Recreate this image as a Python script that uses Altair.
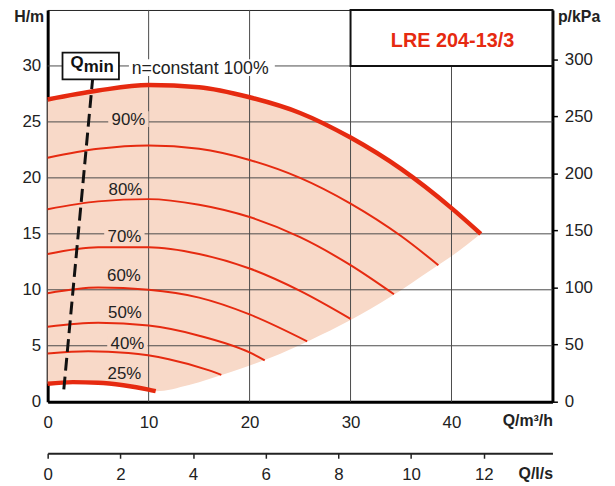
import altair as alt
import pandas as pd

# ---------------- data ----------------
Q_MAX = 50.0          # m3/h
H_MAX = 35.0          # m
KPA_PER_M = 9.81
M3H_PER_LS = 3.6

# pump curves: flow Q (m3/h) and head H (m)
q_100 = [0, 5, 10, 15, 20, 25, 30, 35, 40, 42.9]
h_100 = [27.0, 27.8, 28.3, 28.1, 27.2, 25.8, 23.6, 20.8, 17.3, 15.0]
q_90 = [0, 5, 10, 15, 20, 25, 30, 35, 38.7]
h_90 = [21.8, 22.6, 22.9, 22.6, 21.6, 20.0, 17.7, 14.8, 12.2]
q_80 = [0, 5, 10, 15, 20, 25, 30, 34.3]
h_80 = [17.2, 17.9, 18.1, 17.6, 16.5, 14.7, 12.2, 9.6]
q_70 = [0, 5, 10, 15, 20, 25, 30]
h_70 = [13.2, 13.8, 13.8, 13.2, 11.9, 9.9, 7.4]
q_60 = [0, 5, 10, 15, 20, 25.7]
h_60 = [9.7, 10.2, 10.0, 9.3, 7.8, 5.4]
q_50 = [0, 5, 10, 15, 20, 21.5]
h_50 = [6.7, 7.05, 6.8, 5.9, 4.4, 3.7]
q_40 = [0, 4, 8, 12, 16, 17.2]
h_40 = [4.3, 4.5, 4.35, 3.8, 2.8, 2.4]
q_25 = [0, 2.5, 5, 7.5, 10, 10.7]
h_25 = [1.6, 1.75, 1.7, 1.47, 1.08, 0.94]

# shaded operating range
area_q = [0, 2.5, 5, 7.5, 10, 10.7, 14, 18, 22, 26, 30, 34, 38, 40, 42.9]
area_top = [27.0, 27.45, 27.8, 28.1, 28.3, 28.3, 28.2, 27.6, 26.7, 25.4, 23.6, 21.4, 18.8, 17.3, 15.0]
area_bottom = [1.6, 1.75, 1.7, 1.47, 1.08, 0.94, 1.5, 2.6, 3.9, 5.5, 7.3, 9.4, 11.8, 13.0, 15.0]

# Qmin line
qmin_q = [1.6, 4.45]
qmin_h = [1.1, 28.8]

# axis ticks
h_ticks = [0, 5, 10, 15, 20, 25, 30]
q_ticks = [0, 10, 20, 30, 40]
kpa_ticks = [0, 50, 100, 150, 200, 250, 300]
ls_ticks = [0, 2, 4, 6, 8, 10, 12]

# curve labels (text, anchor Q, baseline H)
label_text = ["90%", "80%", "70%", "60%", "50%", "40%", "25%"]
label_q = [8.0, 7.7, 7.6, 7.55, 7.65, 7.9, 7.6]
label_h = [24.72, 18.46, 14.29, 10.78, 7.5, 4.7, 2.04]

TITLE = "LRE 204-13/3"

# ---------------- styles ----------------
RED = "#e62a10"
FILL = "#f8d9c8"
GRID = "#4a4a4a"
INK = "#222222"
FONT = "Liberation Sans"
FS = 17
W, H = 509, 395

# ---------------- tables ----------------
curve_rows = []
for name, qs, hs in [("100%", q_100, h_100), ("90%", q_90, h_90), ("80%", q_80, h_80),
                     ("70%", q_70, h_70), ("60%", q_60, h_60), ("50%", q_50, h_50),
                     ("40%", q_40, h_40), ("25%", q_25, h_25)]:
    for i, (q, h) in enumerate(zip(qs, hs)):
        curve_rows.append({"curve": name, "q": q, "h": h, "i": i})
curves = pd.DataFrame(curve_rows)
thick = curves[curves.curve.isin(["100%", "25%"])]
thin = curves[~curves.curve.isin(["100%", "25%"])]

area_df = pd.DataFrame({"q": area_q, "h": area_top, "h2": area_bottom})
gridh_df = pd.DataFrame({"h": [t for t in h_ticks if t > 0], "q": 0.0, "q2": Q_MAX})
gridv_df = pd.DataFrame({"q": [t for t in q_ticks if t > 0], "h": 0.0, "h2": H_MAX})
qmin_df = pd.DataFrame({"q": qmin_q, "h": qmin_h})
lab_df = pd.DataFrame({"t": label_text, "q": label_q, "h": label_h})
lab_df["q1"] = lab_df.q - 2.0
lab_df["q2"] = lab_df.q + 2.0
lab_df["h1"] = lab_df.h - 0.18
lab_df["h2"] = lab_df.h + 1.24

xscale = alt.Scale(domain=[0, Q_MAX], nice=False, zero=False)
yscale = alt.Scale(domain=[0, H_MAX], nice=False, zero=False)
xaxis = alt.Axis(values=q_ticks, ticks=False, grid=False, domainWidth=3, domainColor="black",
                 labelFlush=False, labelPadding=13, labelFontSize=FS, labelColor=INK, labelFont=FONT,
                 title="Q/m³/h", titleAngle=0, titleX=W, titleY=19, titleAlign="right",
                 titleBaseline="middle", titleFontSize=16, titleFontWeight="bold", titleFont=FONT,
                 titleColor=INK)
yaxis = alt.Axis(values=h_ticks, ticks=False, grid=False, domainWidth=3, domainColor="black",
                 labelFlush=False, labelPadding=7, labelFontSize=FS, labelColor=INK, labelFont=FONT,
                 title="H/m", titleAngle=0, titleX=-4, titleY=7, titleAlign="right",
                 titleBaseline="middle", titleFontSize=16, titleFontWeight="bold", titleFont=FONT,
                 titleColor=INK)
X = alt.X("q:Q", scale=xscale, axis=xaxis)
Y = alt.Y("h:Q", scale=yscale, axis=yaxis)

area = alt.Chart(area_df).mark_area(color=FILL, interpolate="monotone", opacity=1).encode(
    x=X, y=Y, y2="h2:Q")
gridh = alt.Chart(gridh_df).mark_rule(color=GRID, strokeWidth=1).encode(x=X, x2="q2:Q", y=Y)
gridv = alt.Chart(gridv_df).mark_rule(color=GRID, strokeWidth=1).encode(x=X, y=Y, y2="h2:Q")
lab_bg = alt.Chart(lab_df).mark_rect(color=FILL).encode(
    x=alt.X("q1:Q", scale=xscale, axis=xaxis), x2="q2:Q",
    y=alt.Y("h1:Q", scale=yscale, axis=yaxis), y2="h2:Q")
thin_lines = alt.Chart(thin).mark_line(color=RED, strokeWidth=2, interpolate="monotone").encode(
    x=X, y=Y, detail="curve:N", order="i:Q")
thick_lines = alt.Chart(thick).mark_line(color=RED, strokeWidth=4.5, interpolate="monotone").encode(
    x=X, y=Y, detail="curve:N", order="i:Q")
qmin_line = alt.Chart(qmin_df).mark_line(color="#111111", strokeWidth=3, strokeDash=[13, 6]).encode(
    x=X, y=Y)

# Qmin box and "n=constant 100%" label
ann_box = pd.DataFrame({"q": [1.47], "q2": [7.06], "h": [28.8], "h2": [31.19]})
qmin_box = alt.Chart(ann_box).mark_rect(fill="white", stroke="#111111", strokeWidth=1.8).encode(
    x=X, x2="q2:Q", y=Y, y2="h2:Q")
q_txt = alt.Chart(pd.DataFrame({"q": [2.25], "h": [29.8], "t": ["Q"]})).mark_text(
    font=FONT, fontSize=17, fontWeight="bold", align="left", baseline="alphabetic", color="#111111"
).encode(x=X, y=Y, text="t:N")
min_txt = alt.Chart(pd.DataFrame({"q": [3.58], "h": [29.5], "t": ["min"]})).mark_text(
    font=FONT, fontSize=17, fontWeight="bold", align="left", baseline="alphabetic", color="#111111"
).encode(x=X, y=Y, text="t:N")
nc_bg = alt.Chart(pd.DataFrame({"q": [8.05], "q2": [22.5], "h": [29.1], "h2": [30.6]})).mark_rect(
    color="white").encode(x=X, x2="q2:Q", y=Y, y2="h2:Q")
nc_txt = alt.Chart(pd.DataFrame({"q": [8.33], "h": [29.27], "t": ["n=constant 100%"]})).mark_text(
    font=FONT, fontSize=17.8, align="left", baseline="alphabetic", color=INK
).encode(x=X, y=Y, text="t:N")
labels = alt.Chart(lab_df).mark_text(
    font=FONT, fontSize=FS, align="center", baseline="alphabetic", color=INK
).encode(x=X, y=Y, text="t:N")

# title box
tbox = alt.Chart(pd.DataFrame({"q": [30.0], "q2": [Q_MAX], "h": [30.0], "h2": [H_MAX]})).mark_rect(
    fill="white", stroke="#111111", strokeWidth=2).encode(x=X, x2="q2:Q", y=Y, y2="h2:Q")
ttxt = alt.Chart(pd.DataFrame({"q": [40.1], "h": [31.66], "t": [TITLE]})).mark_text(
    font=FONT, fontSize=20, fontWeight="bold", align="center", baseline="alphabetic", color=RED
).encode(x=X, y=Y, text="t:N")

main = alt.layer(area, gridh, gridv, lab_bg, thin_lines, thick_lines, qmin_line, qmin_box,
                 q_txt, min_txt, nc_bg, nc_txt, labels, tbox, ttxt)

# secondary axes
kpa = alt.Chart(pd.DataFrame({"kpa": kpa_ticks})).mark_point(opacity=0).encode(
    y=alt.Y("kpa:Q", scale=alt.Scale(domain=[0, H_MAX * KPA_PER_M], nice=False, zero=False),
            axis=alt.Axis(orient="right", values=kpa_ticks, grid=False, domainWidth=3,
                          domainColor="black", tickSize=5, tickWidth=1.5, tickColor="black",
                          labelFlush=False, labelPadding=7, labelFontSize=FS, labelColor=INK,
                          labelFont=FONT,
                          title="p/kPa", titleAngle=0, titleX=5, titleY=7, titleAlign="left",
                          titleBaseline="middle", titleFontSize=16, titleFontWeight="bold",
                          titleFont=FONT, titleColor=INK)))
ls = alt.Chart(pd.DataFrame({"ls": ls_ticks})).mark_point(opacity=0).encode(
    x=alt.X("ls:Q", scale=alt.Scale(domain=[0, Q_MAX / M3H_PER_LS], nice=False, zero=False),
            axis=alt.Axis(orient="bottom", offset=52, values=ls_ticks, grid=False, domainWidth=2,
                          domainColor="#222222", tickSize=5, tickWidth=1.5, tickColor="#222222",
                          labelFlush=False, labelPadding=8, labelFontSize=FS, labelColor=INK,
                          labelFont=FONT,
                          title="Q/l/s", titleAngle=0, titleX=W, titleY=20, titleAlign="right",
                          titleBaseline="middle", titleFontSize=16, titleFontWeight="bold",
                          titleFont=FONT, titleColor=INK)))

chart = alt.layer(main, kpa, ls).resolve_scale(x="independent", y="independent").properties(
    width=W, height=H,
    autosize=alt.AutoSizeParams(type="none"),
    padding={"left": 40, "top": 0, "right": 55, "bottom": 84},
    background="white",
).configure_view(stroke="#222222", strokeWidth=1)

chart.save("out.html", embed_options={"renderer": "svg", "actions": False})
